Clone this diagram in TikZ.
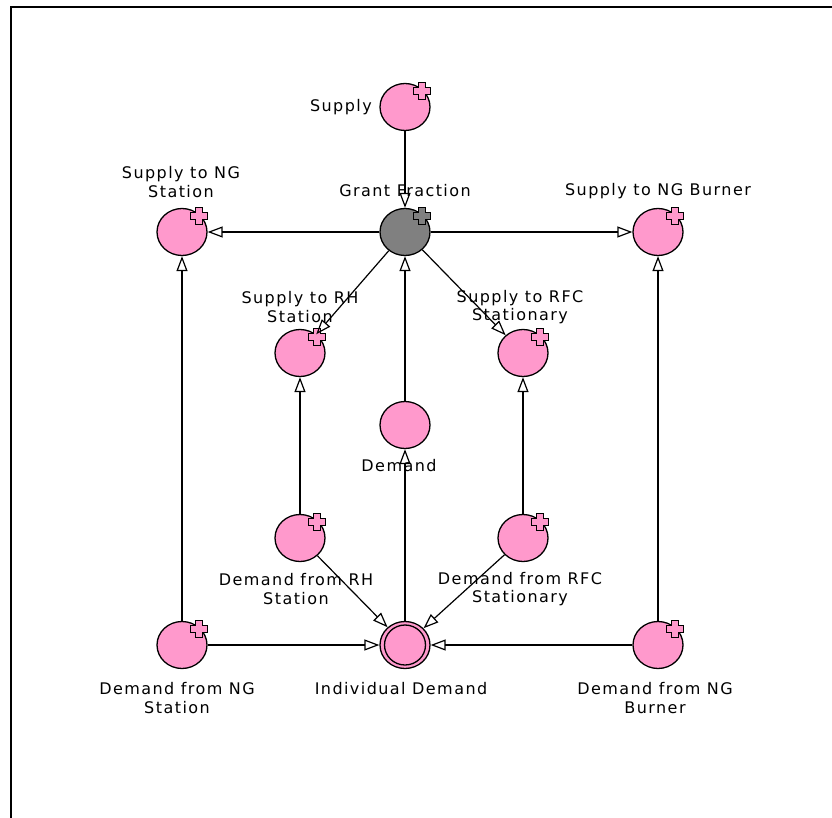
\documentclass[tikz,border=0pt]{standalone}
\usepackage{fontspec}
\newfontfamily\lblfont[LetterSpace=9]{DejaVu Sans}
\usepackage{xcolor}
\usepackage{tikz}
\usetikzlibrary{positioning, arrows.meta, shapes.geometric}
\definecolor{varpink}{HTML}{FF99CC}
\definecolor{vargrey}{HTML}{808080}

\begin{document}
\begin{tikzpicture}[x=1pt, y=-1pt,
  var/.style={ellipse, draw, line width=1.3pt, fill=varpink, minimum width=50pt, minimum height=47pt, inner sep=0pt},
  lbl/.style={font=\lblfont\fontsize{16}{18.5}\selectfont, align=center, inner sep=0pt},
  arrow/.style={-{Triangle[open, length=15pt, width=11pt]}, line width=1.2pt},
  pics/plusmark/.style={code={
    \draw[line width=1.3pt, fill=#1] (-3.5,-8.5) -- (3.5,-8.5) -- (3.5,-3.5) -- (8.5,-3.5) -- (8.5,3.5) -- (3.5,3.5)
      -- (3.5,8.5) -- (-3.5,8.5) -- (-3.5,3.5) -- (-8.5,3.5) -- (-8.5,-3.5) -- (-3.5,-3.5) -- cycle;}},
  pics/plusmark/.default=varpink
]
  \useasboundingbox (0,0) rectangle (832,818);
  \draw[line width=2.5pt] (11,818) -- (11,7) -- (832,7);

  % variables
  \node[var] (supply) at (405,107) {};
  \node[var, fill=vargrey] (grant) at (405,232) {};
  \node[var] (supplyngs) at (182,232) {};
  \node[var] (supplyngb) at (658,232) {};
  \node[var] (supplyrh) at (300,353) {};
  \node[var] (supplyrfc) at (523,353) {};
  \node[var] (demand) at (405,425) {};
  \node[var] (demandrh) at (300,538) {};
  \node[var] (demandrfc) at (523,538) {};
  \node[var] (demandngs) at (182,645) {};
  \node[var] (indiv) at (405,645) {};
  \node[var] (demandngb) at (658,645) {};
  \draw[line width=1.3pt] (indiv.center) ellipse [x radius=20.5, y radius=20];

  % badges
  \pic at ([shift={(17,-16)}]supply.center) {plusmark};
  \pic at ([shift={(17,-16)}]grant.center) {plusmark=vargrey};
  \pic at ([shift={(17,-16)}]supplyngs.center) {plusmark};
  \pic at ([shift={(17,-16)}]supplyngb.center) {plusmark};
  \pic at ([shift={(17,-16)}]supplyrh.center) {plusmark};
  \pic at ([shift={(17,-16)}]supplyrfc.center) {plusmark};
  \pic at ([shift={(17,-16)}]demandrh.center) {plusmark};
  \pic at ([shift={(17,-16)}]demandrfc.center) {plusmark};
  \pic at ([shift={(17,-16)}]demandngs.center) {plusmark};
  \pic at ([shift={(17,-16)}]demandngb.center) {plusmark};

  % labels
  \node[lbl, anchor=east] (tsupply) at (372,107) {Supply};
  \node[lbl] (tsupplyngs) at (181,182) {Supply to NG\\Station};
  \node[lbl] (tgrant) at (405,191) {Grant Fraction};
  \node[lbl] (tsupplyngb) at (658,191) {Supply to NG Burner};
  \node[lbl] (tsupplyrh) at (300,307) {Supply to RH\\Station};
  \node[lbl] (tsupplyrfc) at (520,307) {Supply to RFC\\Stationary};
  \node[lbl] (tdemand) at (399,466) {Demand};
  \node[lbl] (tdemandrh) at (296,589) {Demand from RH\\Station};
  \node[lbl] (tdemandrfc) at (520,589) {Demand from RFC\\Stationary};
  \node[lbl] (tdemandngs) at (177,698) {Demand from NG\\Station};
  \node[lbl] (tindiv) at (401,689) {Individual Demand};
  \node[lbl] (tdemandngb) at (655,698) {Demand from NG\\Burner};

  % links
  \draw[arrow] (supply) -- (grant);
  \draw[arrow] (grant) -- (supplyngs);
  \draw[arrow] (grant) -- (supplyngb);
  \draw[arrow] (grant) -- (supplyrh);
  \draw[arrow] (grant) -- (supplyrfc);
  \draw[arrow] (demand) -- (grant);
  \draw[arrow] (indiv) -- (demand);
  \draw[arrow] (demandrh) -- (supplyrh);
  \draw[arrow] (demandrfc) -- (supplyrfc);
  \draw[arrow] (demandngs) -- (supplyngs);
  \draw[arrow] (demandngb) -- (supplyngb);
  \draw[arrow] (demandrh) -- (indiv);
  \draw[arrow] (demandrfc) -- (indiv);
  \draw[arrow] (demandngs) -- (indiv);
  \draw[arrow] (demandngb) -- (indiv);
\end{tikzpicture}
\end{document}
